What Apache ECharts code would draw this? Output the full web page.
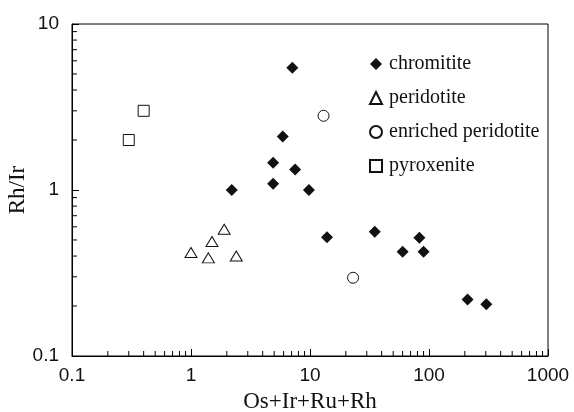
<!DOCTYPE html>
<html>
<head>
<meta charset="utf-8">
<script src="https://cdn.jsdelivr.net/npm/echarts@6/dist/echarts.min.js"></script>
<style>
  html, body { margin: 0; padding: 0; background: #fff; }
  #chart-dom { width: 574px; height: 412px; }
</style>
</head>
<body>
<div id="chart-dom"></div>
<script>
// values
const chromititeX = [7.1, 5.9, 4.9, 7.5, 4.9, 2.2, 9.8, 13.9, 35, 83, 60, 90, 211, 303];
const chromititeY = [5.45, 2.1, 1.46, 1.33, 1.09, 1.0, 1.0, 0.52, 0.56, 0.515, 0.425, 0.425, 0.219, 0.205];
const peridotiteX = [1.0, 1.4, 1.5, 1.9, 2.4];
const peridotiteY = [0.42, 0.39, 0.49, 0.58, 0.40];
const enrichedX = [13.0, 23];
const enrichedY = [2.8, 0.296];
const pyroxeniteX = [0.3, 0.4];
const pyroxeniteY = [2.0, 3.0];

const xMin = 0.1, xMax = 1000;
const yMin = 0.1, yMax = 10;

// minor ticks at 2..9 of every decade
function minorTicks(lo, hi) {
  const out = [];
  for (let d = lo; d < hi; d *= 10) {
    for (let k = 2; k <= 9; k++) out.push(+(d * k).toPrecision(3));
  }
  return out;
}
const xMinor = minorTicks(xMin, xMax);
const yMinor = minorTicks(yMin, yMax);

function zip(xs, ys) { return xs.map((x, i) => [x, ys[i]]); }

const serif = '"Liberation Serif", "Times New Roman", serif';
const sans = '"Liberation Sans", Arial, sans-serif';

const myChart = echarts.init(document.getElementById('chart-dom'));

// log axis minor ticks drawn through the axis scale
function tickSeries(name, data, horizontal) {
  return {
    name: name,
    type: 'custom',
    silent: true,
    clip: false,
    z: 1,
    data: data,
    renderItem: function (params, api) {
      const p = api.coord([api.value(0), api.value(1)]);
      const len = 5;
      return {
        type: 'line',
        shape: horizontal
          ? { x1: p[0], y1: p[1], x2: p[0], y2: p[1] - len }
          : { x1: p[0], y1: p[1], x2: p[0] + len, y2: p[1] },
        style: { stroke: '#000', lineWidth: 1 }
      };
    }
  };
}

const option = {
  animation: false,
  grid: {
    left: 72, right: 26, top: 24, bottom: 56,
    outerBoundsMode: 'none',
    containLabel: false,
    show: true, borderColor: '#000', borderWidth: 1
  },
  legend: {
    orient: 'vertical',
    left: 364,
    top: 49,
    itemWidth: 12,
    itemHeight: 12,
    itemGap: 14,
    selectedMode: false,
    textStyle: { fontFamily: serif, fontSize: 20, color: '#111', lineHeight: 20, padding: [0, 0, 0, 2] },
    data: ['chromitite', 'peridotite', 'enriched peridotite', 'pyroxenite']
  },
  xAxis: {
    type: 'log',
    logBase: 10,
    min: xMin,
    max: xMax,
    name: 'Os+Ir+Ru+Rh',
    nameLocation: 'middle',
    nameGap: 34,
    nameMoveOverlap: false,
    nameTextStyle: { fontFamily: serif, fontSize: 23, color: '#111' },
    axisLine: { show: true, lineStyle: { color: '#000', width: 1 } },
    axisTick: { show: true, inside: true, length: 7, lineStyle: { color: '#000' } },
    axisLabel: { fontFamily: sans, fontSize: 19, color: '#111', margin: 10, formatter: v => String(v) },
    splitLine: { show: false }
  },
  yAxis: {
    type: 'log',
    logBase: 10,
    min: yMin,
    max: yMax,
    name: 'Rh/Ir',
    nameLocation: 'middle',
    nameGap: 43,
    nameMoveOverlap: false,
    nameTextStyle: { fontFamily: serif, fontSize: 23, color: '#111' },
    axisLine: { show: true, lineStyle: { color: '#000', width: 1 } },
    axisTick: { show: true, inside: true, length: 7, lineStyle: { color: '#000' } },
    axisLabel: { fontFamily: sans, fontSize: 19, color: '#111', margin: 13, formatter: v => String(v) },
    splitLine: { show: false }
  },
  series: [
    tickSeries('x minor ticks', xMinor.map(v => [v, yMin]), true),
    tickSeries('y minor ticks', yMinor.map(v => [xMin, v]), false),
    {
      name: 'chromitite',
      type: 'scatter',
      symbol: 'diamond',
      symbolSize: 12,
      itemStyle: { color: '#111', opacity: 1 },
      data: zip(chromititeX, chromititeY),
      z: 3
    },
    {
      name: 'peridotite',
      type: 'scatter',
      symbol: 'triangle',
      symbolSize: [12, 10],
      itemStyle: { color: '#fff', borderColor: '#111', borderWidth: 1, opacity: 1 },
      data: zip(peridotiteX, peridotiteY),
      z: 3
    },
    {
      name: 'enriched peridotite',
      type: 'scatter',
      symbol: 'circle',
      symbolSize: 11,
      itemStyle: { color: '#fff', borderColor: '#111', borderWidth: 1, opacity: 1 },
      data: zip(enrichedX, enrichedY),
      z: 3
    },
    {
      name: 'pyroxenite',
      type: 'scatter',
      symbol: 'rect',
      symbolSize: 11,
      itemStyle: { color: '#fff', borderColor: '#111', borderWidth: 1, opacity: 1 },
      data: zip(pyroxeniteX, pyroxeniteY),
      z: 3
    }
  ]
};
myChart.setOption(option, true);
</script>
</body>
</html>
